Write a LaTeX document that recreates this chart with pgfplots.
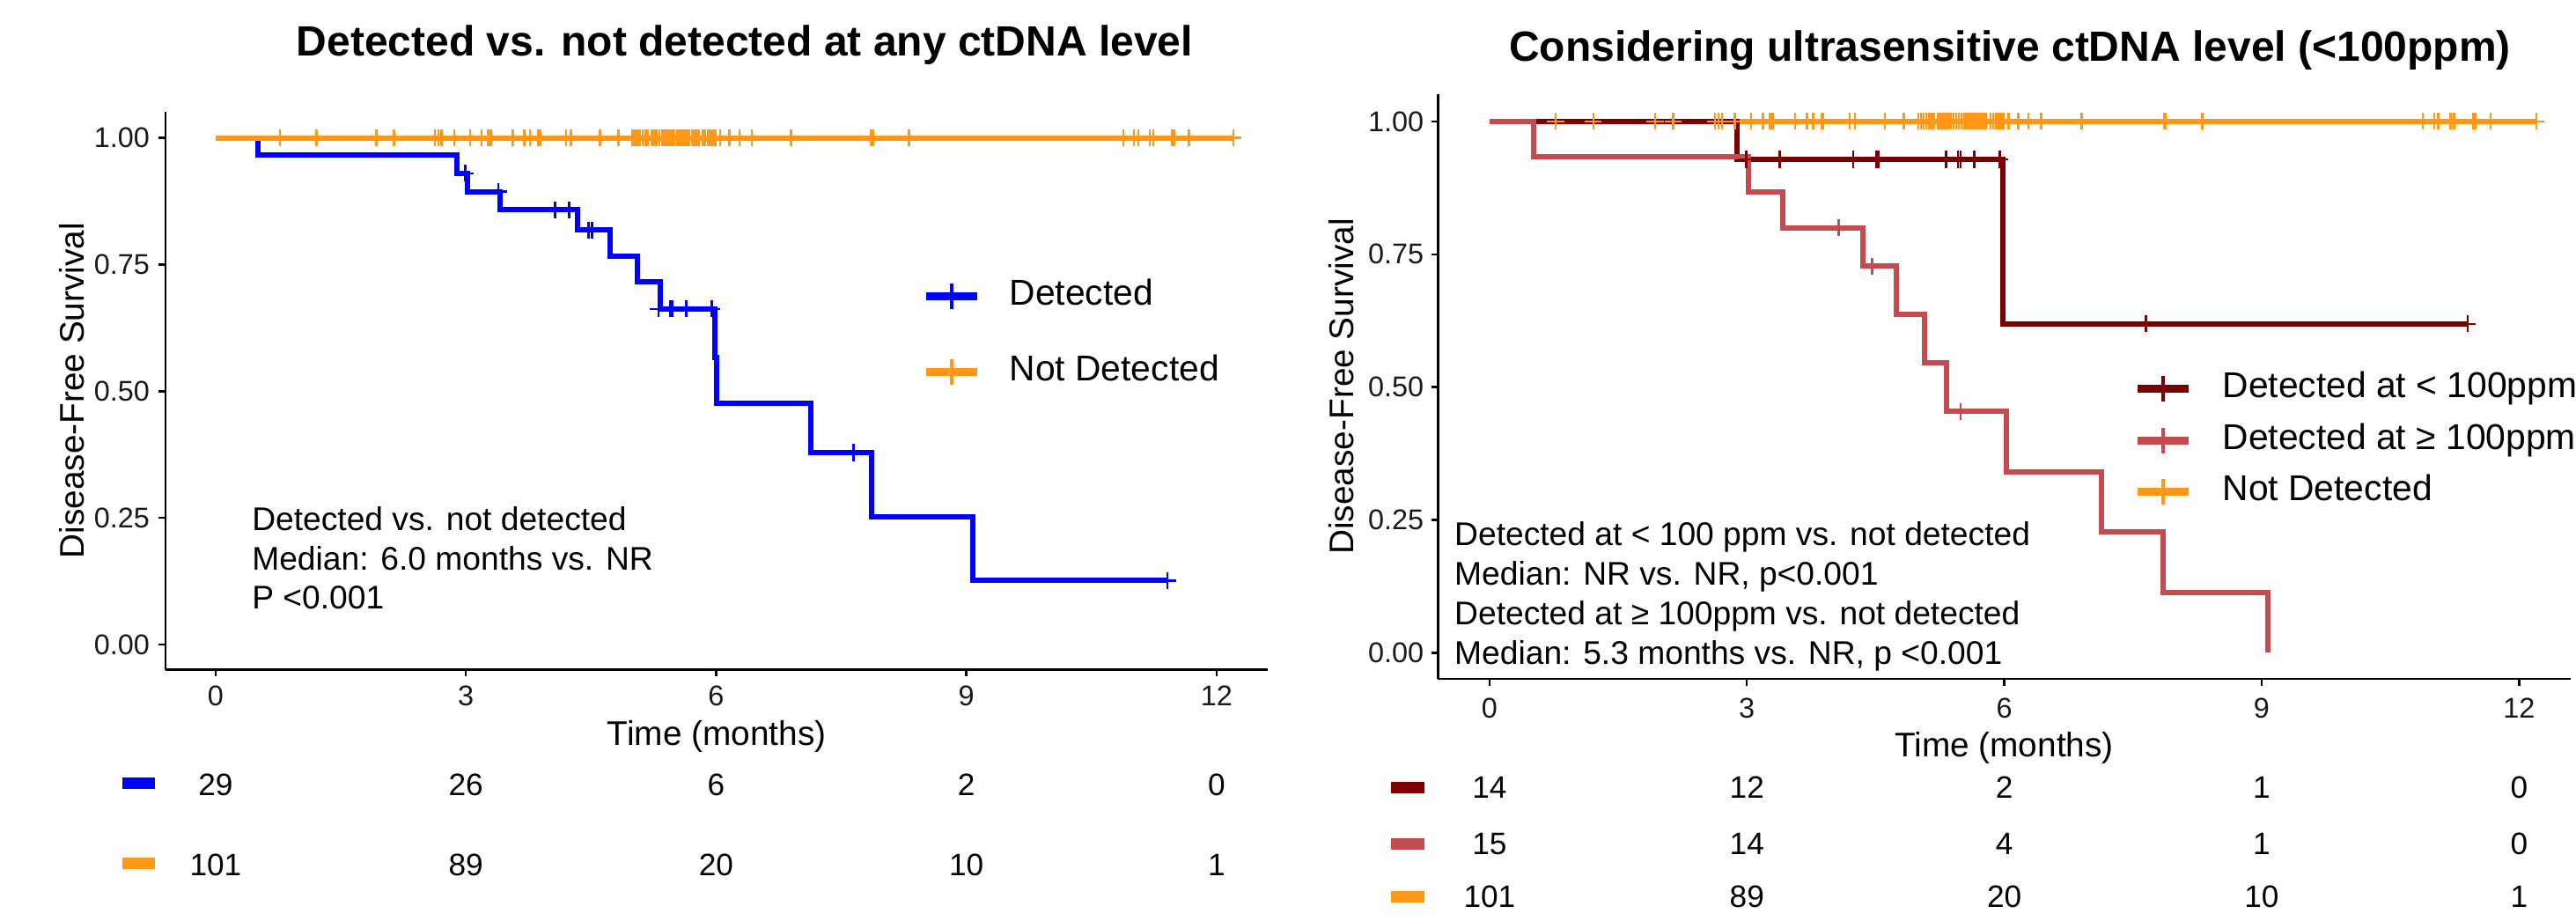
\documentclass[border=0pt]{standalone}
\usepackage{fontspec}
\setmainfont{Liberation Sans}
\usepackage{pgfplots}
\pgfplotsset{compat=1.18}
\definecolor{cblue}{RGB}{0,0,255}
\definecolor{corange}{RGB}{255,152,25}
\definecolor{cdark}{RGB}{122,0,0}
\definecolor{cred}{RGB}{196,75,80}
\newcommand{\fs}[1]{\fontsize{#1}{#1}\selectfont}
\pgfplotsset{
  km/.style={
    scale only axis,
    axis x line*=bottom, axis y line*=left,
    axis line style={line width=0.7pt, black, -},
    xtick={0,3,6,9,12}, ytick={0,0.25,0.5,0.75,1},
    tick align=outside, major tick length=1.9pt,
    tick style={line width=0.6pt, black},
    /pgf/number format/assume math mode=true,
    yticklabel style={/pgf/number format/fixed, /pgf/number format/fixed zerofill, /pgf/number format/precision=2, anchor=east, inner sep=0pt},
    ticklabel style={font=\fs{8.1}, text=black!90},
    xlabel={Time (months)}, ylabel={Disease-Free Survival},
    label style={font=\fs{9.7}},
    legend cell align=left,
    legend image code/.code={
      \draw[line width=2.25pt] (0pt,0pt) -- (14.5pt,0pt);
      \draw[line width=1pt] (7.25pt,-3.6pt) -- (7.25pt,3.6pt);
    },
  },
  cens/.style={only marks, mark=+, mark size=2.4pt, mark options={line width=0.65pt}, forget plot},
  curve/.style={const plot, line width=1.5pt, forget plot},
}
\begin{document}
\begin{tikzpicture}
\path[use as bounding box] (0,0) rectangle (731.5pt,261.5pt);
% ---------------- left panel ----------------
\begin{axis}[km,
  at={(47pt,71.325pt)}, anchor=south west,
  width=313.1pt, height=158.5pt,
  xmin=-0.6005, xmax=12.617, ymin=-0.0497, ymax=1.052,
  xticklabel style={anchor=base, yshift=-8.4pt},
  yticklabel style={xshift=-2.4pt},
  xlabel style={at={(axis description cs:0.5,-0.1352)}, anchor=base},
  ylabel style={at={(axis description cs:-0.0736,0.5)}, anchor=base},
  legend style={at={(axis description cs:0.6864,0.7008)}, anchor=north west,
    draw=none, fill=none, inner sep=0pt, outer sep=0pt,
    row sep=11.5pt, column sep=8pt, font=\fs{10.2},
    nodes={inner sep=0pt, text height=7.5pt, text depth=2.5pt}},
]
\addplot[curve, cblue] coordinates {
 (0,1) (0.505,0.9655) (2.89,0.930) (3.02,0.894) (3.41,0.858) (4.34,0.818)
 (4.73,0.767) (5.06,0.716) (5.33,0.6625) (5.98,0.567) (6.01,0.4755)
 (7.14,0.379) (7.86,0.2529) (9.08,0.1263) (11.41,0.1263)};
\addplot[curve, corange] coordinates {(0,1) (12.2,1)};
\addplot[cens, cblue] coordinates {
 (2.99,0.930) (3.39,0.894) (4.07,0.858) (4.24,0.858) (4.47,0.818) (4.51,0.818)
 (5.31,0.6625) (5.45,0.6625) (5.47,0.6625) (5.64,0.6625) (5.95,0.6625)
 (7.65,0.379) (11.41,0.1263)};
\addplot[cens, corange] coordinates {
 (0.77,1) (1.21,1) (1.93,1) (2.14,1) (2.63,1) (2.67,1) (2.71,1) (2.86,1)
 (3.05,1) (3.19,1) (3.27,1) (3.30,1) (3.56,1) (3.70,1) (3.77,1) (3.87,1) (3.89,1)
 (4.20,1) (4.26,1) (4.61,1) (4.83,1)
 (5.00,1) (5.03,1) (5.06,1) (5.09,1) (5.12,1) (5.15,1) (5.18,1)
 (5.23,1) (5.26,1) (5.29,1) (5.32,1) (5.35,1) (5.38,1) (5.41,1) (5.44,1) (5.47,1)
 (5.50,1) (5.53,1) (5.56,1) (5.59,1) (5.62,1) (5.65,1) (5.68,1) (5.71,1) (5.74,1)
 (5.77,1) (5.79,1) (5.84,1) (5.87,1) (5.90,1) (5.93,1) (5.96,1) (5.99,1)
 (6.05,1) (6.16,1) (6.28,1) (6.43,1) (6.90,1) (7.86,1) (7.88,1) (8.31,1)
 (10.88,1) (11.01,1) (11.06,1) (11.20,1) (11.24,1) (11.47,1) (11.49,1) (11.67,1) (12.20,1)};
\addlegendimage{cblue}\addlegendentry{Detected}
\addlegendimage{corange}\addlegendentry{Not Detected}
\end{axis}
% ---------------- right panel ----------------
\begin{axis}[km,
  at={(408.275pt,68.75pt)}, anchor=south west,
  width=321.675pt, height=166.075pt,
  xmin=-0.603, xmax=12.60, ymin=-0.0489, ymax=1.0517,
  xticklabel style={anchor=base, yshift=-9.15pt},
  yticklabel style={xshift=-1.9pt},
  xlabel style={at={(axis description cs:0.5,-0.1335)}, anchor=base},
  ylabel style={at={(axis description cs:-0.0744,0.5)}, anchor=base},
  legend style={at={(axis description cs:0.6139,0.526)}, anchor=north west,
    draw=none, fill=none, inner sep=0pt, outer sep=0pt,
    row sep=4.66pt, column sep=8.67pt, font=\fs{10.2},
    nodes={inner sep=0pt, text height=7.5pt, text depth=2.5pt}},
]
\addplot[curve, corange] coordinates {(0,1) (12.2,1)};
\addplot[curve, cdark] coordinates {
 (0,1) (2.88,0.9286) (5.98,0.619) (11.40,0.619)};
\addplot[curve, cred] coordinates {
 (0,1) (0.516,0.9333) (3.02,0.8667) (3.42,0.80) (4.35,0.7273) (4.74,0.6364)
 (5.07,0.5455) (5.33,0.4545) (6.02,0.3409) (7.13,0.2273) (7.85,0.1136) (9.07,0.0)};
\addplot[cens, cdark] coordinates {
 (2.99,0.9286) (3.38,0.9286) (4.24,0.9286) (4.51,0.9286) (4.53,0.9286)
 (5.32,0.9286) (5.46,0.9286) (5.49,0.9286) (5.65,0.9286) (5.95,0.9286)
 (7.65,0.619) (11.40,0.619)};
\addplot[cens, cred] coordinates {(4.07,0.80) (4.46,0.7273) (5.49,0.4545)};
\addplot[cens, corange] coordinates {
 (0.77,1) (1.21,1) (1.93,1) (2.14,1) (2.63,1) (2.67,1) (2.71,1) (2.86,1)
 (3.05,1) (3.19,1) (3.27,1) (3.30,1) (3.56,1) (3.70,1) (3.77,1) (3.87,1) (3.89,1)
 (4.20,1) (4.26,1) (4.61,1) (4.83,1)
 (5.00,1) (5.03,1) (5.06,1) (5.09,1) (5.12,1) (5.15,1) (5.18,1)
 (5.23,1) (5.26,1) (5.29,1) (5.32,1) (5.35,1) (5.38,1) (5.41,1) (5.44,1) (5.47,1)
 (5.50,1) (5.53,1) (5.56,1) (5.59,1) (5.62,1) (5.65,1) (5.68,1) (5.71,1) (5.74,1)
 (5.77,1) (5.79,1) (5.84,1) (5.87,1) (5.90,1) (5.93,1) (5.96,1) (5.99,1)
 (6.05,1) (6.16,1) (6.28,1) (6.43,1) (6.90,1) (7.86,1) (7.88,1) (8.31,1)
 (10.88,1) (11.01,1) (11.06,1) (11.20,1) (11.24,1) (11.47,1) (11.49,1) (11.67,1) (12.20,1)};
\addlegendimage{cdark}\addlegendentry{Detected at < 100ppm}
\addlegendimage{cred}\addlegendentry{Detected at ≥ 100ppm}
\addlegendimage{corange}\addlegendentry{Not Detected}
\end{axis}
% ---------------- titles ----------------
\node[anchor=base, font=\bfseries\fs{12}, inner sep=0pt] at (211.5pt,245.675pt) {Detected vs. not detected at any ctDNA level};
\node[anchor=base, font=\bfseries\fs{12}, inner sep=0pt] at (570.75pt,244.0pt) {Considering ultrasensitive ctDNA level (<100ppm)};
% ---------------- annotations ----------------
\begin{scope}[every node/.style={anchor=base west, inner sep=0pt, font=\fs{9.3}}]
\node at (71.375pt,110.95pt) {Detected vs. not detected};
\node at (71.375pt,99.5pt) {Median: 6.0 months vs. NR};
\node at (71.375pt,88.625pt) {P <0.001};
\node at (412.85pt,106.5pt) {Detected at < 100 ppm vs. not detected};
\node at (412.85pt,95.25pt) {Median: NR vs. NR, p<0.001};
\node at (412.85pt,84.0pt) {Detected at ≥ 100ppm vs. not detected};
\node at (412.85pt,72.875pt) {Median: 5.3 months vs. NR, p <0.001};
\end{scope}
% ---------------- risk tables ----------------
\begin{scope}[every node/.style={anchor=base, inner sep=0pt, font=\fs{8.8}}]
\foreach \x/\a/\b in {61.225/29/101, 132.29/26/89, 203.35/6/20, 274.41/2/10, 345.475/0/1}{
  \node at (\x pt,35.5pt) {\a};
  \node at (\x pt,12.75pt) {\b};
}
\foreach \x/\a/\b/\c in {422.975/14/15/101, 496.06/12/14/89, 569.15/2/4/20, 642.24/1/1/10, 715.325/0/0/1}{
  \node at (\x pt,34.75pt) {\a};
  \node at (\x pt,18.85pt) {\b};
  \node at (\x pt,3.82pt) {\c};
}
\end{scope}
\fill[cblue] (34.675pt,37.5pt) rectangle (43.925pt,40.85pt);
\fill[corange] (34.675pt,14.75pt) rectangle (43.925pt,18.1pt);
\fill[cdark] (394.9pt,36.2pt) rectangle (404.575pt,39.55pt);
\fill[cred] (394.9pt,20.2pt) rectangle (404.575pt,23.55pt);
\fill[corange] (394.9pt,5.15pt) rectangle (404.575pt,8.5pt);
\end{tikzpicture}
\end{document}
